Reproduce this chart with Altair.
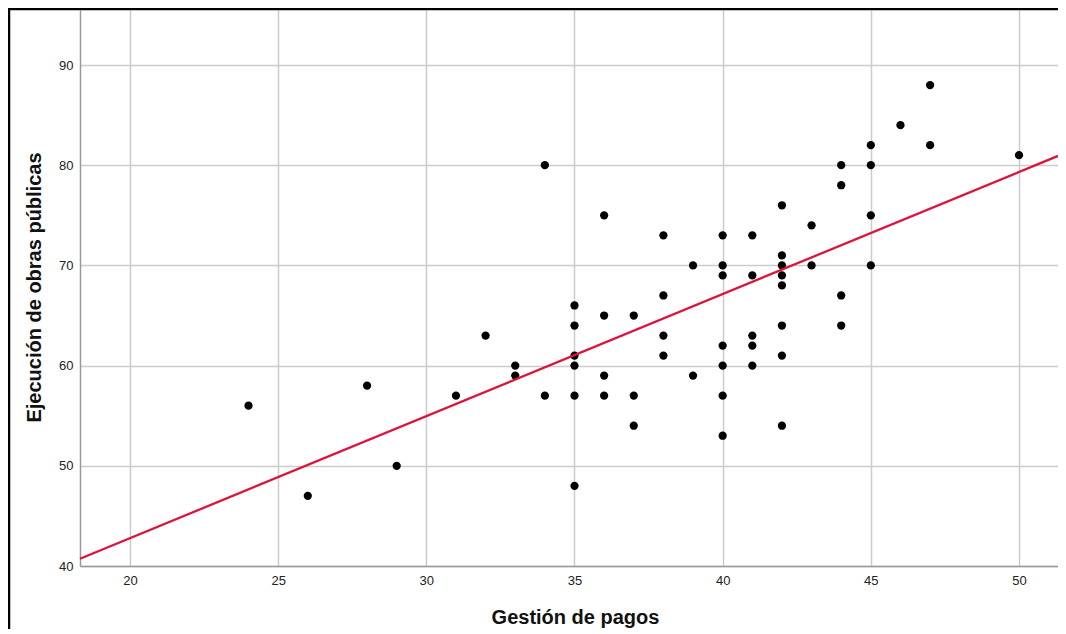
import altair as alt
import pandas as pd

gestion = [24, 26, 28, 29, 31, 32, 33, 33, 34, 34,
           35, 35, 35, 35, 35, 35,
           36, 36, 36, 36, 37, 37, 37,
           38, 38, 38, 38, 39, 39,
           40, 40, 40, 40, 40, 40, 40,
           41, 41, 41, 41, 41,
           42, 42, 42, 42, 42, 42, 42, 42,
           43, 43, 44, 44, 44, 44, 45, 45, 45, 45, 46, 47, 47, 50]
ejecucion = [56, 47, 58, 50, 57, 63, 60, 59, 80, 57,
             66, 64, 61, 60, 57, 48,
             75, 65, 59, 57, 65, 57, 54,
             73, 67, 63, 61, 70, 59,
             73, 70, 69, 62, 60, 57, 53,
             73, 69, 63, 62, 60,
             76, 71, 70, 69, 68, 64, 61, 54,
             74, 70, 80, 78, 67, 64, 82, 80, 75, 70, 84, 88, 82, 81]
x_ticks = [20, 25, 30, 35, 40, 45, 50]
y_ticks = [40, 50, 60, 70, 80, 90]

df = pd.DataFrame({"x": gestion, "y": ejecucion})

X_MIN, X_MAX = 18.313, 51.316
Y_MIN, Y_MAX = 40, 95.49
FONT = "Liberation Sans"

xs = alt.Scale(domain=[X_MIN, X_MAX], nice=False, zero=False)
ys = alt.Scale(domain=[Y_MIN, Y_MAX], nice=False, zero=False)

x_axis = alt.Axis(values=x_ticks, title="Gestión de pagos", ticks=False,
                  labelPadding=8, labelFontSize=13, labelColor="#222222",
                  labelFont=FONT, titleFont=FONT, titleFontSize=20,
                  titleFontWeight="bold", titleColor="#111111",
                  titleX=495, titleY=57, titleBaseline="alphabetic",
                  grid=True, gridColor="#cccccc", gridWidth=1.5,
                  domainColor="#999999", domainWidth=1.5)
y_axis = alt.Axis(values=y_ticks, title="Ejecución de obras públicas", ticks=False,
                  labelPadding=7, labelFontSize=13, labelColor="#222222",
                  labelFont=FONT, titleFont=FONT, titleFontSize=20,
                  titleFontWeight="bold", titleColor="#111111",
                  titleX=-40, titleY=277, titleBaseline="alphabetic",
                  grid=True, gridColor="#cccccc", gridWidth=1.5,
                  domainColor="#999999", domainWidth=1.5)

base = alt.Chart(df)

points = base.mark_circle(size=68, color="#000000", opacity=1).encode(
    x=alt.X("x:Q", scale=xs, axis=x_axis),
    y=alt.Y("y:Q", scale=ys, axis=y_axis),
)

fit = base.transform_regression("x", "y", extent=[X_MIN, X_MAX]).mark_line(
    color="#DC143C", strokeWidth=2.3
).encode(x=alt.X("x:Q", scale=xs), y=alt.Y("y:Q", scale=ys))

frame_left = alt.Chart(pd.DataFrame({"a": [0]})).mark_rule(
    color="#000000", strokeWidth=2.5
).encode(x=alt.value(-71), y=alt.value(-1), y2=alt.value(640))
frame_top = alt.Chart(pd.DataFrame({"a": [0]})).mark_rule(
    color="#000000", strokeWidth=2.5
).encode(x=alt.value(-72), x2=alt.value(1000), y=alt.value(-1))

chart = alt.layer(points, fit, frame_left, frame_top).properties(
    width=978, height=556,
    autosize=alt.AutoSizeParams(type="none"),
    padding={"left": 72, "top": 2, "right": 0, "bottom": 63},
    background="#ffffff",
).configure_view(stroke=None)

chart.save("out.html", embed_options={"renderer": "svg", "actions": False})
